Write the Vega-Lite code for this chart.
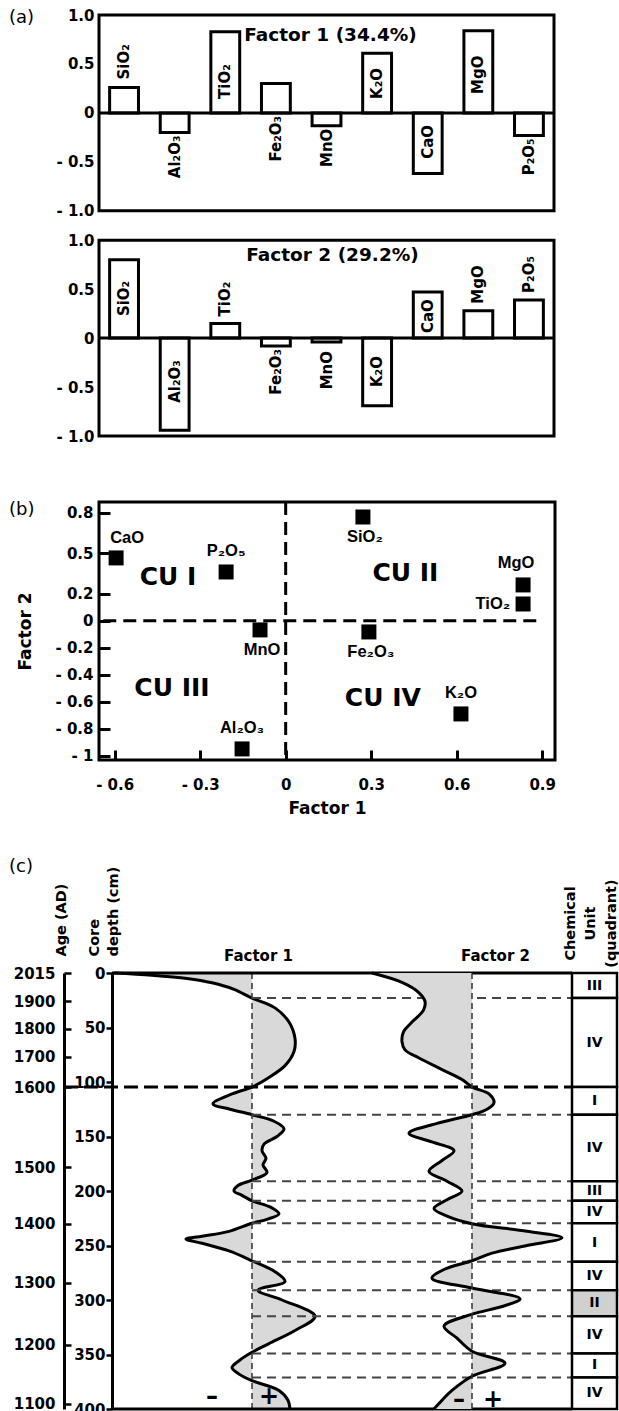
{
  "$schema": "https://vega.github.io/schema/vega-lite/v6.json",
  "padding": {"left": 7, "top": 8, "right": 0, "bottom": 0},
  "background": "white",
  "config": {
    "font": "DejaVu Sans",
    "view": {"stroke": null},
    "axis": {"grid": false, "labelFont": "DejaVu Sans", "labelFontWeight": "bold", "labelFontSize": 15, "labelColor": "black", "titleFont": "DejaVu Sans", "titleFontWeight": "bold", "titleColor": "black", "domainColor": "black", "tickColor": "black", "labelOverlap": false},
    "title": {"font": "DejaVu Sans", "fontSize": 18, "fontWeight": "normal", "color": "black"},
    "text": {"font": "DejaVu Sans", "color": "black"}
  },
  "datasets": {
    "loadings": [
      {"oxide": "SiO2", "label": "SiO₂", "f1": 0.26, "f2": 0.80},
      {"oxide": "Al2O3", "label": "Al₂O₃", "f1": -0.20, "f2": -0.94},
      {"oxide": "TiO2", "label": "TiO₂", "f1": 0.83, "f2": 0.15},
      {"oxide": "Fe2O3", "label": "Fe₂O₃", "f1": 0.30, "f2": -0.08},
      {"oxide": "MnO", "label": "MnO", "f1": -0.13, "f2": -0.04},
      {"oxide": "K2O", "label": "K₂O", "f1": 0.61, "f2": -0.69},
      {"oxide": "CaO", "label": "CaO", "f1": -0.62, "f2": 0.47},
      {"oxide": "MgO", "label": "MgO", "f1": 0.84, "f2": 0.28},
      {"oxide": "P2O5", "label": "P₂O₅", "f1": -0.23, "f2": 0.39}
    ],
    "scatter": [
      {"oxide": "CaO", "label": "CaO", "f1": -0.595, "f2": 0.466},
      {"oxide": "P2O5", "label": "P₂O₅", "f1": -0.209, "f2": 0.362},
      {"oxide": "MnO", "label": "MnO", "f1": -0.090, "f2": -0.067},
      {"oxide": "Al2O3", "label": "Al₂O₃", "f1": -0.153, "f2": -0.948},
      {"oxide": "SiO2", "label": "SiO₂", "f1": 0.271, "f2": 0.769},
      {"oxide": "MgO", "label": "MgO", "f1": 0.833, "f2": 0.266},
      {"oxide": "TiO2", "label": "TiO₂", "f1": 0.833, "f2": 0.125},
      {"oxide": "Fe2O3", "label": "Fe₂O₃", "f1": 0.292, "f2": -0.082},
      {"oxide": "K2O", "label": "K₂O", "f1": 0.615, "f2": -0.689}
    ],
    "cu": [
      {"label": "CU I", "f1": -0.413, "f2": 0.325},
      {"label": "CU II", "f1": 0.42, "f2": 0.354},
      {"label": "CU III", "f1": -0.399, "f2": -0.496},
      {"label": "CU IV", "f1": 0.341, "f2": -0.57}
    ],
    "factor1": [
      {"depth": 0, "score": -2.76}, {"depth": 2, "score": -2.0}, {"depth": 5, "score": -1.3}, {"depth": 9, "score": -0.8},
      {"depth": 15, "score": -0.36}, {"depth": 23, "score": 0}, {"depth": 32, "score": 0.46}, {"depth": 45, "score": 0.74},
      {"depth": 60, "score": 0.86}, {"depth": 72, "score": 0.84}, {"depth": 85, "score": 0.66}, {"depth": 97, "score": 0.3},
      {"depth": 104.6, "score": 0}, {"depth": 111, "score": -0.4}, {"depth": 120, "score": -0.78}, {"depth": 125, "score": -0.44},
      {"depth": 130, "score": 0}, {"depth": 136, "score": 0.44}, {"depth": 143, "score": 0.64}, {"depth": 150, "score": 0.5},
      {"depth": 157, "score": 0.24}, {"depth": 163, "score": 0.2}, {"depth": 170, "score": 0.28}, {"depth": 176, "score": 0.22},
      {"depth": 183, "score": 0.3}, {"depth": 190, "score": 0}, {"depth": 195, "score": -0.28}, {"depth": 200, "score": -0.36},
      {"depth": 204, "score": -0.2}, {"depth": 209, "score": 0}, {"depth": 215, "score": 0.38}, {"depth": 221, "score": 0.54},
      {"depth": 226, "score": 0.3}, {"depth": 229.6, "score": 0}, {"depth": 237, "score": -0.46}, {"depth": 241.5, "score": -1.0},
      {"depth": 244, "score": -1.32}, {"depth": 248, "score": -1.0}, {"depth": 255, "score": -0.46}, {"depth": 264, "score": 0},
      {"depth": 274, "score": 0.46}, {"depth": 283, "score": 0.66}, {"depth": 291, "score": 0.12}, {"depth": 300, "score": 0.6},
      {"depth": 315, "score": 1.26}, {"depth": 328, "score": 0.86}, {"depth": 340, "score": 0.34}, {"depth": 348, "score": 0},
      {"depth": 355, "score": -0.24}, {"depth": 362, "score": -0.4}, {"depth": 368, "score": -0.26}, {"depth": 374, "score": 0},
      {"depth": 383, "score": 0.54}, {"depth": 392, "score": 0.72}, {"depth": 400, "score": 0.76}
    ],
    "factor2": [
      {"depth": 0, "score": -2.0}, {"depth": 8.6, "score": -1.4}, {"depth": 17.7, "score": -1.07}, {"depth": 26, "score": -0.94},
      {"depth": 34, "score": -0.97}, {"depth": 45, "score": -1.2}, {"depth": 54, "score": -1.37}, {"depth": 63, "score": -1.4},
      {"depth": 70.5, "score": -1.34}, {"depth": 78, "score": -1.06}, {"depth": 88.6, "score": -0.6}, {"depth": 97.7, "score": -0.2},
      {"depth": 104.6, "score": 0}, {"depth": 111, "score": 0.34}, {"depth": 119, "score": 0.44}, {"depth": 125, "score": 0.3},
      {"depth": 130, "score": 0}, {"depth": 138, "score": -0.7}, {"depth": 147, "score": -1.26}, {"depth": 155, "score": -0.8},
      {"depth": 163, "score": -0.36}, {"depth": 172, "score": -0.6}, {"depth": 182, "score": -0.86}, {"depth": 191, "score": -0.5},
      {"depth": 200, "score": -0.2}, {"depth": 208, "score": -0.5}, {"depth": 216, "score": -0.76}, {"depth": 223, "score": -0.5},
      {"depth": 230, "score": 0}, {"depth": 237, "score": 1.1}, {"depth": 243, "score": 1.8}, {"depth": 250, "score": 1.1},
      {"depth": 257, "score": 0.4}, {"depth": 264, "score": 0}, {"depth": 272, "score": -0.56}, {"depth": 280, "score": -0.8},
      {"depth": 289, "score": 0}, {"depth": 299, "score": 0.96}, {"depth": 306, "score": 0.6}, {"depth": 313, "score": 0},
      {"depth": 324, "score": -0.56}, {"depth": 335, "score": -0.3}, {"depth": 347, "score": 0}, {"depth": 358, "score": 0.66},
      {"depth": 370, "score": 0}, {"depth": 383, "score": -0.4}, {"depth": 392, "score": -0.6}, {"depth": 400, "score": -0.76}
    ],
    "units": [
      {"id": 1, "unit": "III", "top": 0, "bottom": 23},
      {"id": 2, "unit": "IV", "top": 23, "bottom": 104.6},
      {"id": 3, "unit": "I", "top": 104.6, "bottom": 130},
      {"id": 4, "unit": "IV", "top": 130, "bottom": 191},
      {"id": 5, "unit": "III", "top": 191, "bottom": 209},
      {"id": 6, "unit": "IV", "top": 209, "bottom": 229.6},
      {"id": 7, "unit": "I", "top": 229.6, "bottom": 265},
      {"id": 8, "unit": "IV", "top": 265, "bottom": 291},
      {"id": 9, "unit": "II", "top": 291, "bottom": 315},
      {"id": 10, "unit": "IV", "top": 315, "bottom": 349},
      {"id": 11, "unit": "I", "top": 349, "bottom": 371},
      {"id": 12, "unit": "IV", "top": 371, "bottom": 400}
    ],
    "ageDepth": [
      {"age": 2015, "depth": 0}, {"age": 1900, "depth": 26}, {"age": 1800, "depth": 51}, {"age": 1700, "depth": 77},
      {"age": 1600, "depth": 104.6}, {"age": 1500, "depth": 178}, {"age": 1400, "depth": 230}, {"age": 1300, "depth": 284},
      {"age": 1200, "depth": 341}, {"age": 1100, "depth": 395}
    ]
  },
  "align": "none",
  "spacing": 40,
  "vconcat": [
    {
      "align": "none",
      "spacing": 55,
      "vconcat": [
        {
          "width": 455,
          "height": 421,
          "title": {"text": "(a)", "anchor": "start", "frame": "group", "dx": -90, "offset": 0, "baseline": "top", "dy": 19},
          "resolve": {"scale": {"y": "independent"}, "axis": {"y": "independent"}},
          "layer": [
            {
              "layer": [
                {"data": {"values": [{}]}, "mark": {"type": "rect", "filled": false, "color": "black", "strokeWidth": 3},
                 "encoding": {"y": {"datum": 1, "scale": {"domain": [-3.3, 1], "nice": false, "zero": false}}, "y2": {"datum": -1}}},
                {"data": {"name": "loadings"}, "mark": {"type": "bar", "fill": "white", "stroke": "black", "strokeWidth": 3},
                 "encoding": {
                   "x": {"field": "oxide", "type": "nominal", "sort": null, "axis": null, "scale": {"paddingInner": 0.43, "paddingOuter": 0.21}},
                   "y": {"field": "f1", "type": "quantitative", "scale": {"domain": [-3.3, 1], "nice": false, "zero": false},
                         "axis": {"orient": "left", "values": [-1, -0.5, 0, 0.5, 1], "domain": false, "ticks": false, "labelPadding": 5, "title": null, "labelOverlap": false,
                                  "labelExpr": "datum.value == 0 ? '0' : datum.value < 0 ? '- ' + format(-datum.value, '.1f') : format(datum.value, '.1f')"}}
                 }},
                {"data": {"values": [{}]}, "mark": {"type": "rule", "color": "black", "strokeWidth": 3},
                 "encoding": {"y": {"datum": 0, "scale": {"domain": [-3.3, 1], "nice": false, "zero": false}}}},
                {"data": {"name": "loadings"}, "transform": [{"filter": {"field": "oxide", "oneOf": ["SiO2"]}}],
                 "mark": {"type": "text", "angle": 270, "align": "left", "baseline": "middle", "dx": 8, "fontSize": 15, "fontWeight": "bold"},
                 "encoding": {"x": {"field": "oxide", "type": "nominal", "sort": null}, "y": {"field": "f1", "type": "quantitative"}, "text": {"field": "label"}}},
                {"data": {"name": "loadings"}, "transform": [{"filter": {"field": "oxide", "oneOf": ["Al2O3", "MnO", "P2O5"]}}],
                 "mark": {"type": "text", "angle": 270, "align": "right", "baseline": "middle", "dx": -3, "fontSize": 15, "fontWeight": "bold"},
                 "encoding": {"x": {"field": "oxide", "type": "nominal", "sort": null}, "y": {"field": "f1", "type": "quantitative"}, "text": {"field": "label"}}},
                {"data": {"name": "loadings"}, "transform": [{"filter": {"field": "oxide", "oneOf": ["TiO2", "K2O"]}}],
                 "mark": {"type": "text", "angle": 270, "align": "left", "baseline": "middle", "dx": 14, "fontSize": 15, "fontWeight": "bold"},
                 "encoding": {"x": {"field": "oxide", "type": "nominal", "sort": null}, "y": {"datum": 0}, "text": {"field": "label"}}},
                {"data": {"name": "loadings"}, "transform": [{"filter": {"field": "oxide", "oneOf": ["MgO"]}}],
                 "mark": {"type": "text", "angle": 270, "align": "left", "baseline": "middle", "dx": 19, "fontSize": 15, "fontWeight": "bold"},
                 "encoding": {"x": {"field": "oxide", "type": "nominal", "sort": null}, "y": {"datum": 0}, "text": {"field": "label"}}},
                {"data": {"name": "loadings"}, "transform": [{"filter": {"field": "oxide", "oneOf": ["Fe2O3"]}}],
                 "mark": {"type": "text", "angle": 270, "align": "right", "baseline": "middle", "dx": -3, "fontSize": 15, "fontWeight": "bold"},
                 "encoding": {"x": {"field": "oxide", "type": "nominal", "sort": null}, "y": {"datum": 0}, "text": {"field": "label"}}},
                {"data": {"name": "loadings"}, "transform": [{"filter": {"field": "oxide", "oneOf": ["CaO"]}}],
                 "mark": {"type": "text", "angle": 270, "align": "right", "baseline": "middle", "dx": -12, "fontSize": 15, "fontWeight": "bold"},
                 "encoding": {"x": {"field": "oxide", "type": "nominal", "sort": null}, "y": {"datum": 0}, "text": {"field": "label"}}},
                {"data": {"values": [{}]}, "mark": {"type": "text", "align": "center", "baseline": "middle", "dx": 4, "fontSize": 18.5, "fontWeight": "bold"},
                 "encoding": {"x": {"datum": "MnO"}, "y": {"datum": 0.8}, "text": {"value": "Factor 1 (34.4%)"}}}
              ]
            },
            {
              "layer": [
                {"data": {"values": [{}]}, "mark": {"type": "rect", "filled": false, "color": "black", "strokeWidth": 3},
                 "encoding": {"y": {"datum": 1, "scale": {"domain": [-1, 3.3], "nice": false, "zero": false}}, "y2": {"datum": -1}}},
                {"data": {"name": "loadings"}, "mark": {"type": "bar", "fill": "white", "stroke": "black", "strokeWidth": 3},
                 "encoding": {
                   "x": {"field": "oxide", "type": "nominal", "sort": null, "axis": null, "scale": {"paddingInner": 0.43, "paddingOuter": 0.21}},
                   "y": {"field": "f2", "type": "quantitative", "scale": {"domain": [-1, 3.3], "nice": false, "zero": false},
                         "axis": {"orient": "left", "values": [-1, -0.5, 0, 0.5, 1], "domain": false, "ticks": false, "labelPadding": 5, "title": null, "labelOverlap": false,
                                  "labelExpr": "datum.value == 0 ? '0' : datum.value < 0 ? '- ' + format(-datum.value, '.1f') : format(datum.value, '.1f')"}}
                 }},
                {"data": {"values": [{}]}, "mark": {"type": "rule", "color": "black", "strokeWidth": 3},
                 "encoding": {"y": {"datum": 0, "scale": {"domain": [-1, 3.3], "nice": false, "zero": false}}}},
                {"data": {"name": "loadings"}, "transform": [{"filter": {"field": "oxide", "oneOf": ["SiO2"]}}],
                 "mark": {"type": "text", "angle": 270, "align": "left", "baseline": "middle", "dx": 22, "fontSize": 15, "fontWeight": "bold"},
                 "encoding": {"x": {"field": "oxide", "type": "nominal", "sort": null}, "y": {"datum": 0}, "text": {"field": "label"}}},
                {"data": {"name": "loadings"}, "transform": [{"filter": {"field": "oxide", "oneOf": ["CaO"]}}],
                 "mark": {"type": "text", "angle": 270, "align": "left", "baseline": "middle", "dx": 5, "fontSize": 15, "fontWeight": "bold"},
                 "encoding": {"x": {"field": "oxide", "type": "nominal", "sort": null}, "y": {"datum": 0}, "text": {"field": "label"}}},
                {"data": {"name": "loadings"}, "transform": [{"filter": {"field": "oxide", "oneOf": ["Al2O3"]}}],
                 "mark": {"type": "text", "angle": 270, "align": "right", "baseline": "middle", "dx": -22, "fontSize": 15, "fontWeight": "bold"},
                 "encoding": {"x": {"field": "oxide", "type": "nominal", "sort": null}, "y": {"datum": 0}, "text": {"field": "label"}}},
                {"data": {"name": "loadings"}, "transform": [{"filter": {"field": "oxide", "oneOf": ["K2O"]}}],
                 "mark": {"type": "text", "angle": 270, "align": "right", "baseline": "middle", "dx": -18, "fontSize": 15, "fontWeight": "bold"},
                 "encoding": {"x": {"field": "oxide", "type": "nominal", "sort": null}, "y": {"datum": 0}, "text": {"field": "label"}}},
                {"data": {"name": "loadings"}, "transform": [{"filter": {"field": "oxide", "oneOf": ["TiO2", "MgO", "P2O5"]}}],
                 "mark": {"type": "text", "angle": 270, "align": "left", "baseline": "middle", "dx": 7, "fontSize": 15, "fontWeight": "bold"},
                 "encoding": {"x": {"field": "oxide", "type": "nominal", "sort": null}, "y": {"field": "f2", "type": "quantitative"}, "text": {"field": "label"}}},
                {"data": {"name": "loadings"}, "transform": [{"filter": {"field": "oxide", "oneOf": ["Fe2O3"]}}],
                 "mark": {"type": "text", "angle": 270, "align": "right", "baseline": "middle", "dx": -3, "fontSize": 15, "fontWeight": "bold"},
                 "encoding": {"x": {"field": "oxide", "type": "nominal", "sort": null}, "y": {"field": "f2", "type": "quantitative"}, "text": {"field": "label"}}},
                {"data": {"name": "loadings"}, "transform": [{"filter": {"field": "oxide", "oneOf": ["MnO"]}}],
                 "mark": {"type": "text", "angle": 270, "align": "right", "baseline": "middle", "dx": -9, "fontSize": 15, "fontWeight": "bold"},
                 "encoding": {"x": {"field": "oxide", "type": "nominal", "sort": null}, "y": {"field": "f2", "type": "quantitative"}, "text": {"field": "label"}}},
                {"data": {"values": [{}]}, "mark": {"type": "text", "align": "center", "baseline": "middle", "dx": 6, "fontSize": 18.5, "fontWeight": "bold"},
                 "encoding": {"x": {"datum": "MnO"}, "y": {"datum": 0.85}, "text": {"value": "Factor 2 (29.2%)"}}}
              ]
            }
          ]
        },
        {
          "width": 456,
          "height": 258,
          "view": {"stroke": "black", "strokeWidth": 3},
          "title": {"text": "(b)", "anchor": "start", "frame": "group", "dx": -90, "offset": 0, "baseline": "top", "dy": 18},
          "encoding": {
            "x": {"field": "f1", "type": "quantitative", "scale": {"domain": [-0.655, 0.945], "nice": false, "zero": false},
                  "axis": {"values": [-0.6, -0.3, 0, 0.3, 0.6, 0.9], "domain": false, "ticks": true, "tickSize": -10, "tickWidth": 3, "tickColor": "black", "labelPadding": 27, "zindex": 1, "labelOverlap": false, "labelBound": false, "labelFlush": false,
                           "labelExpr": "datum.value == 0 ? '0' : datum.value < 0 ? '- ' + (-datum.value) : '' + datum.value",
                           "title": "Factor 1", "titleFontSize": 17, "titlePadding": 8}},
            "y": {"field": "f2", "type": "quantitative", "scale": {"domain": [-1.03, 0.88], "nice": false, "zero": false},
                  "axis": {"values": [0.8, 0.5, 0.2, 0, -0.2, -0.4, -0.6, -0.8, -1], "domain": false, "ticks": true, "tickSize": -11, "tickWidth": 3, "tickColor": "black", "labelPadding": 17, "zindex": 1, "labelOverlap": false, "labelBound": false, "labelFlush": false,
                           "labelExpr": "datum.value == 0 ? '0' : datum.value < 0 ? '- ' + (-datum.value) : '' + datum.value",
                           "title": "Factor 2", "titleFontSize": 17, "titlePadding": 20}}
          },
          "layer": [
            {"data": {"name": "scatter"}, "mark": {"type": "square", "size": 225, "color": "black", "filled": true, "opacity": 1}},
            {"data": {"values": [{"f1": 0, "f2": 0}]}, "mark": {"type": "rule", "strokeDash": [13, 7], "strokeWidth": 3, "color": "black"},
             "encoding": {"y": null}},
            {"data": {"values": [{"f1": 0, "f2": 0}]}, "mark": {"type": "rule", "strokeDash": [13, 7], "strokeWidth": 3, "color": "black"},
             "encoding": {"x": {"datum": -0.64}, "x2": {"datum": 0.9}}},
            {"data": {"name": "scatter"}, "transform": [{"filter": {"field": "oxide", "oneOf": ["P2O5", "Al2O3", "K2O"]}}],
             "mark": {"type": "text", "font": "Liberation Sans", "fontWeight": "bold", "fontSize": 16.5, "dy": -21},
             "encoding": {"text": {"field": "label"}}},
            {"data": {"name": "scatter"}, "transform": [{"filter": {"field": "oxide", "oneOf": ["MgO"]}}],
             "mark": {"type": "text", "font": "Liberation Sans", "fontWeight": "bold", "fontSize": 16.5, "dy": -22, "dx": -7},
             "encoding": {"text": {"field": "label"}}},
            {"data": {"name": "scatter"}, "transform": [{"filter": {"field": "oxide", "oneOf": ["CaO"]}}],
             "mark": {"type": "text", "font": "Liberation Sans", "fontWeight": "bold", "fontSize": 16.5, "dy": -20, "dx": 11},
             "encoding": {"text": {"field": "label"}}},
            {"data": {"name": "scatter"}, "transform": [{"filter": {"field": "oxide", "oneOf": ["MnO", "SiO2", "Fe2O3"]}}],
             "mark": {"type": "text", "font": "Liberation Sans", "fontWeight": "bold", "fontSize": 16.5, "dy": 20, "dx": 2},
             "encoding": {"text": {"field": "label"}}},
            {"data": {"name": "scatter"}, "transform": [{"filter": {"field": "oxide", "oneOf": ["TiO2"]}}],
             "mark": {"type": "text", "font": "Liberation Sans", "fontWeight": "bold", "fontSize": 16.5, "align": "right", "dx": -13},
             "encoding": {"text": {"field": "label"}}},
            {"data": {"name": "cu"}, "mark": {"type": "text", "fontWeight": "bold", "fontSize": 25},
             "encoding": {"text": {"field": "label"}}}
          ]
        }
      ]
    },
    {
      "width": 518,
      "height": 436,
      "title": {"text": "(c)", "anchor": "start", "frame": "group", "dx": -90, "offset": 0, "baseline": "bottom", "dy": 28},
      "resolve": {"scale": {"x": "independent", "y": "independent"}, "axis": {"x": "independent", "y": "independent"}},
      "layer": [
        {
          "layer": [
            {"data": {"name": "factor1"}, "mark": {"type": "area", "orient": "horizontal", "interpolate": "catmull-rom", "color": "#d9d9d9"},
             "encoding": {
               "x": {"field": "score", "type": "quantitative", "scale": {"domain": [-3.06, 7.3], "nice": false, "zero": false},
                     "axis": {"orient": "top", "domain": false, "ticks": false, "labels": false, "title": "Factor 1", "titleFontSize": 15,
                              "titleX": 159, "titleY": -18, "titleAlign": "center", "titleBaseline": "middle", "titleAngle": 0}},
               "x2": {"datum": 0},
               "y": {"field": "depth", "type": "quantitative", "scale": {"domain": [0, 400], "reverse": true, "nice": false, "zero": false},
                     "axis": {"orient": "left", "offset": -13, "values": [0, 50, 100, 150, 200, 250, 300, 350, 400], "domain": true, "domainWidth": 3, "tickSize": 6, "tickWidth": 2.5,
                              "labelPadding": 1, "title": ["Core", "depth (cm)"], "titleFontSize": 14.5, "titleAngle": 270, "titleAlign": "left", "titleBaseline": "top",
                              "titleX": -25, "titleY": -17, "titleLineHeight": 19}}
             }},
            {"data": {"name": "factor1"}, "mark": {"type": "line", "interpolate": "catmull-rom", "color": "black", "strokeWidth": 3},
             "encoding": {"x": {"field": "score", "type": "quantitative"}, "y": {"field": "depth", "type": "quantitative"}, "order": {"field": "depth", "type": "quantitative"}}},
            {"data": {"values": [{}]}, "mark": {"type": "rule", "strokeDash": [6, 4], "strokeWidth": 1.5, "color": "#333333"},
             "encoding": {"x": {"datum": 0}}},
            {"data": {"name": "units"}, "transform": [{"filter": "datum.bottom != 104.6 && datum.bottom < 400"}],
             "mark": {"type": "rule", "strokeDash": [9, 6], "strokeWidth": 2, "color": "#444444"},
             "encoding": {"x": {"datum": 0}, "x2": {"datum": 6.4}, "y": {"field": "bottom", "type": "quantitative"}}},
            {"data": {"name": "units"}, "transform": [{"filter": "datum.bottom == 104.6"}],
             "mark": {"type": "rule", "strokeDash": [14, 6], "strokeWidth": 3, "color": "black"},
             "encoding": {"x": {"datum": -3.76}, "x2": {"datum": 6.4}, "y": {"field": "bottom", "type": "quantitative"}}},
            {"data": {"values": [{}]}, "mark": {"type": "rule", "strokeWidth": 3, "color": "black"},
             "encoding": {"x": {"datum": -2.8}, "x2": {"datum": 6.4}, "y": {"datum": 0}}},
            {"data": {"values": [{}]}, "mark": {"type": "rule", "strokeWidth": 3, "color": "black"},
             "encoding": {"x": {"datum": -2.8}, "x2": {"datum": 6.4}, "y": {"datum": 400}}},
            {"data": {"values": [{}]}, "mark": {"type": "text", "fontSize": 24, "fontWeight": "bold"},
             "encoding": {"x": {"datum": -0.8}, "y": {"datum": 389}, "text": {"value": "–"}}},
            {"data": {"values": [{}]}, "mark": {"type": "text", "fontSize": 24, "fontWeight": "bold"},
             "encoding": {"x": {"datum": 0.34}, "y": {"datum": 389}, "text": {"value": "+"}}}
          ]
        },
        {
          "layer": [
            {"data": {"name": "factor2"}, "mark": {"type": "area", "orient": "horizontal", "interpolate": "catmull-rom", "color": "#d9d9d9"},
             "encoding": {
               "x": {"field": "score", "type": "quantitative", "scale": {"domain": [-7.46, 2.9], "nice": false, "zero": false},
                     "axis": {"orient": "bottom", "domain": false, "ticks": false, "labels": false, "title": "Factor 2", "titleFontSize": 15,
                              "titleX": 396, "titleY": -454, "titleAlign": "center", "titleBaseline": "middle", "titleAngle": 0}},
               "x2": {"datum": 0},
               "y": {"field": "depth", "type": "quantitative", "scale": {"domain": [0, 400], "reverse": true, "nice": false, "zero": false},
                     "axis": {"orient": "right", "domain": false, "ticks": false, "labels": false, "title": ["Chemical", "Unit", "(quadrant)"], "titleFontSize": 14.5,
                              "titleAngle": 270, "titleAlign": "center", "titleBaseline": "top", "titleX": -54, "titleY": -50, "titleLineHeight": 20.5}}
             }},
            {"data": {"name": "factor2"}, "mark": {"type": "line", "interpolate": "catmull-rom", "color": "black", "strokeWidth": 3},
             "encoding": {"x": {"field": "score", "type": "quantitative"}, "y": {"field": "depth", "type": "quantitative"}, "order": {"field": "depth", "type": "quantitative"}}},
            {"data": {"values": [{}]}, "mark": {"type": "rule", "strokeDash": [6, 4], "strokeWidth": 1.5, "color": "#333333"},
             "encoding": {"x": {"datum": 0}}},
            {"data": {"name": "units"}, "mark": {"type": "rect", "stroke": "black", "strokeWidth": 2.5},
             "encoding": {"x": {"datum": 2.0}, "x2": {"datum": 2.9}, "y": {"field": "top", "type": "quantitative"}, "y2": {"field": "bottom"},
                          "fill": {"field": "unit", "type": "nominal", "scale": {"domain": ["I", "II", "III", "IV"], "range": ["white", "#d0d0d0", "white", "white"]}, "legend": null}}},
            {"data": {"name": "units"}, "transform": [{"fold": ["top", "bottom"], "as": ["edge", "d"]}],
             "mark": {"type": "text", "fontSize": 14, "fontWeight": "bold"},
             "encoding": {"x": {"datum": 2.45}, "y": {"aggregate": "mean", "field": "d", "type": "quantitative"}, "detail": {"field": "id", "type": "nominal"}, "text": {"field": "unit", "type": "nominal"}}},
            {"data": {"values": [{}]}, "mark": {"type": "text", "fontSize": 24, "fontWeight": "bold"},
             "encoding": {"x": {"datum": -0.26}, "y": {"datum": 392}, "text": {"value": "–"}}},
            {"data": {"values": [{}]}, "mark": {"type": "text", "fontSize": 24, "fontWeight": "bold"},
             "encoding": {"x": {"datum": 0.42}, "y": {"datum": 392}, "text": {"value": "+"}}}
          ]
        },
        {"data": {"name": "ageDepth"}, "mark": {"type": "point", "opacity": 0},
         "encoding": {"y": {"field": "depth", "type": "quantitative", "scale": {"domain": [0, 400], "reverse": true, "nice": false, "zero": false},
                            "axis": {"orient": "left", "offset": 35, "values": [0, 26, 51, 77, 104.6, 178, 230, 284, 341, 395], "domain": true, "domainWidth": 3,
                                     "tickSize": -7, "tickWidth": 2.5, "labelPadding": 16, "labelOverlap": false,
                                     "labelExpr": "datum.value == 0 ? '2015' : datum.value == 26 ? '1900' : datum.value == 51 ? '1800' : datum.value == 77 ? '1700' : datum.value == 104.6 ? '1600' : datum.value == 178 ? '1500' : datum.value == 230 ? '1400' : datum.value == 284 ? '1300' : datum.value == 341 ? '1200' : '1100'",
                                     "title": "Age (AD)", "titleFontSize": 14.5, "titleAngle": 270, "titleAlign": "left", "titleBaseline": "top", "titleX": -10, "titleY": -17}}}}
      ]
    }
  ]
}
